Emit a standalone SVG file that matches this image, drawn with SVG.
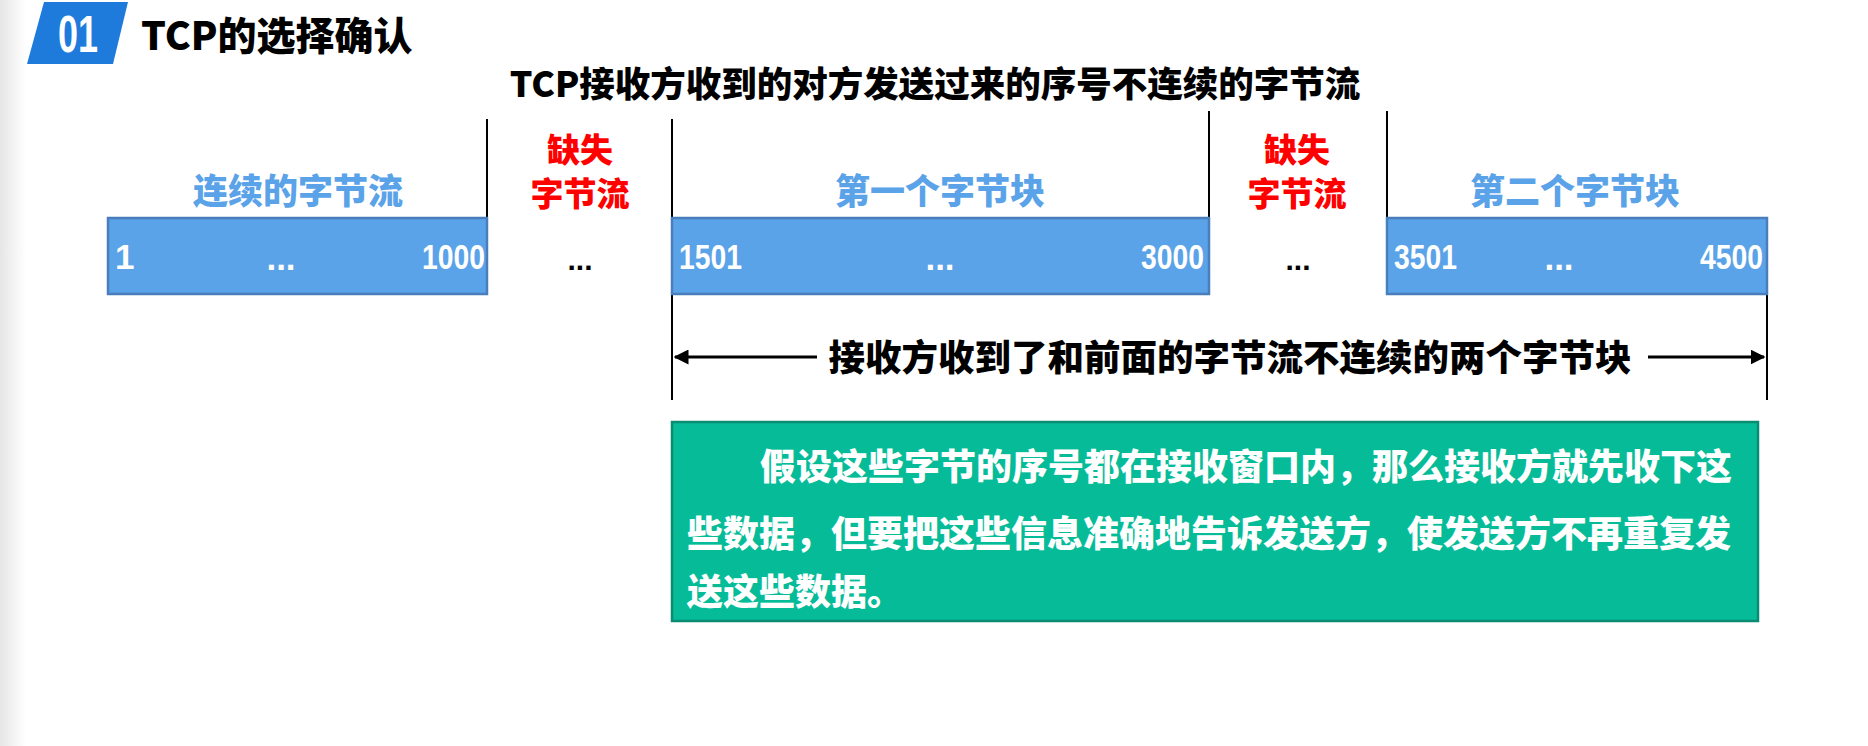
<svg xmlns="http://www.w3.org/2000/svg" width="1868" height="746" viewBox="0 0 1868 746">
  <defs>
    <linearGradient id="edge" x1="0" y1="0" x2="1" y2="0">
      <stop offset="0" stop-color="#e6e6e6"/>
      <stop offset="1" stop-color="#ffffff"/>
    </linearGradient>
    <marker id="ah" viewBox="0 0 10 10" refX="9" refY="5" markerWidth="5" markerHeight="5" orient="auto-start-reverse">
      <path d="M0,0 L10,5 L0,10 z" fill="#000"/>
    </marker>
    <style>
      .cjk { font-family: "Noto Sans CJK SC", "Liberation Sans", sans-serif; font-weight: 900; }
      .num { font-family: "Liberation Sans", "Noto Sans", sans-serif; font-weight: 700; fill: #fff; font-size: 35px; }
      .blue { fill: #5ba3e8; font-size: 35px; }
      .red { fill: #ff0000; font-size: 33px; }
      .box { fill: #5ba3e8; stroke: #4a7ebb; stroke-width: 2.5; }
      .vline { stroke: #000; stroke-width: 2; }
      .dots { font-family: "Liberation Sans", sans-serif; font-weight: 700; font-size: 30px; }
    </style>
  </defs>
  <rect x="0" y="0" width="1868" height="746" fill="#fff"/>
  <rect x="0" y="0" width="26" height="746" fill="url(#edge)"/>

  <g id="header">
    <polygon points="44,2 128,2 113,64 27,64" fill="#1e7bdc"/>
    <text x="78" y="52" text-anchor="middle" textLength="40" lengthAdjust="spacingAndGlyphs" font-family="Liberation Sans, sans-serif" font-weight="700" font-size="52" fill="#fff">01</text>
    <text class="cjk" x="141" y="50" font-size="39" fill="#000">TCP的选择确认</text>
  </g>

  <g id="subtitle">
    <text class="cjk" x="935" y="97" font-size="35.5" text-anchor="middle" fill="#000">TCP接收方收到的对方发送过来的序号不连续的字节流</text>
  </g>

  <g id="connectors">
    <line class="vline" x1="487" y1="119" x2="487" y2="218"/>
    <line class="vline" x1="672" y1="119" x2="672" y2="400"/>
    <line class="vline" x1="1209" y1="111" x2="1209" y2="218"/>
    <line class="vline" x1="1387" y1="111" x2="1387" y2="218"/>
    <line class="vline" x1="1767" y1="294" x2="1767" y2="400"/>
    <line x1="817" y1="357" x2="675" y2="357" stroke="#000" stroke-width="3" marker-end="url(#ah)"/>
    <line x1="1648" y1="357" x2="1764" y2="357" stroke="#000" stroke-width="3" marker-end="url(#ah)"/>
  </g>

  <g id="block1">
    <text class="cjk blue" x="298" y="204" text-anchor="middle">连续的字节流</text>
    <rect class="box" x="108" y="218" width="379" height="76"/>
    <text class="num" x="115" y="269">1</text>
    <text class="num" x="281" y="270" text-anchor="middle">...</text>
    <text class="num" x="485" y="269" text-anchor="end" textLength="63" lengthAdjust="spacingAndGlyphs">1000</text>
  </g>

  <g id="gap1">
    <text class="cjk red" x="580" y="162" text-anchor="middle">缺失</text>
    <text class="cjk red" x="580" y="206" text-anchor="middle">字节流</text>
    <text class="dots" x="580" y="270" text-anchor="middle">...</text>
  </g>

  <g id="block2">
    <text class="cjk blue" x="940" y="204" text-anchor="middle">第一个字节块</text>
    <rect class="box" x="672" y="218" width="537" height="76"/>
    <text class="num" x="679" y="269" textLength="63" lengthAdjust="spacingAndGlyphs">1501</text>
    <text class="num" x="940" y="270" text-anchor="middle">...</text>
    <text class="num" x="1204" y="269" text-anchor="end" textLength="63" lengthAdjust="spacingAndGlyphs">3000</text>
  </g>

  <g id="gap2">
    <text class="cjk red" x="1297" y="162" text-anchor="middle">缺失</text>
    <text class="cjk red" x="1297" y="206" text-anchor="middle">字节流</text>
    <text class="dots" x="1298" y="270" text-anchor="middle">...</text>
  </g>

  <g id="block3">
    <text class="cjk blue" x="1575" y="204" text-anchor="middle">第二个字节块</text>
    <rect class="box" x="1387" y="218" width="380" height="76"/>
    <text class="num" x="1394" y="269" textLength="63" lengthAdjust="spacingAndGlyphs">3501</text>
    <text class="num" x="1559" y="270" text-anchor="middle">...</text>
    <text class="num" x="1763" y="269" text-anchor="end" textLength="63" lengthAdjust="spacingAndGlyphs">4500</text>
  </g>

  <g id="span-label">
    <text class="cjk" x="1230" y="371" font-size="36.5" text-anchor="middle" fill="#000">接收方收到了和前面的字节流不连续的两个字节块</text>
  </g>

  <g id="note">
    <rect x="672" y="422" width="1086" height="199" fill="#06bc98" stroke="#0a8c72" stroke-width="2.5"/>
    <text class="cjk" font-size="36" fill="#fff">
      <tspan x="760" y="480">假设这些字节的序号都在接收窗口内，那么接收方就先收下这</tspan>
      <tspan x="687" y="547">些数据，但要把这些信息准确地告诉发送方，使发送方不再重复发</tspan>
      <tspan x="687" y="605">送这些数据。</tspan>
    </text>
  </g>
</svg>
